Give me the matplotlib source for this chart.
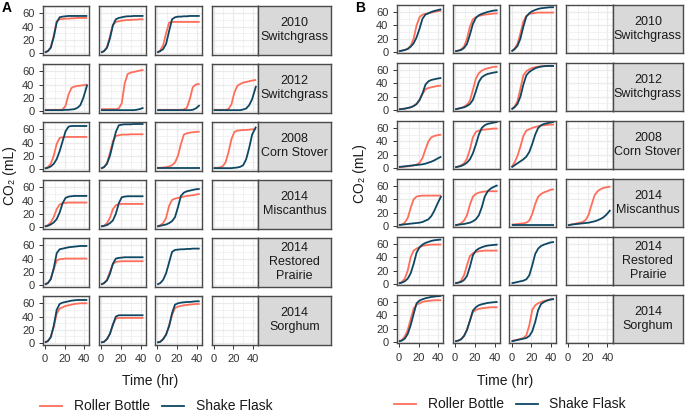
import matplotlib
matplotlib.use('Agg')
import matplotlib.pyplot as plt
from matplotlib.lines import Line2D

plt.rcParams['font.family'] = ['Liberation Sans', 'DejaVu Sans']

W, H = 685, 420

times = [0, 3, 6, 9, 12, 15, 18, 21, 24, 27, 30, 33, 36, 39, 43]
strip_labels = ["2010\nSwitchgrass", "2012\nSwitchgrass", "2008\nCorn Stover",
                "2014\nMiscanthus", "2014\nRestored\nPrairie", "2014\nSorghum"]
series_names = ["Roller Bottle", "Shake Flask"]
x_ticks = [0, 20, 40]
y_ticks = [0, 20, 40, 60]

# ---------------- Panel A ----------------
A_SG10_RB = [[1, 3, 9, 26, 48, 51, 51.5, 52, 52, 52.5, 52.5, 53, 53, 53, 53],
             [1, 3, 9, 25, 42, 47, 48, 49, 49.5, 50, 50, 50.5, 50.5, 51, 51],
             [1, 4, 12, 30, 46, 47, 47, 47, 47, 47, 47, 47, 47, 47, 47],
             None]
A_SG10_SF = [[1, 3, 8, 24, 46, 54, 55, 55.5, 56, 56, 56, 56, 56, 56, 56],
             [1, 3, 8, 22, 42, 51, 53, 54, 55, 55.5, 55.5, 56, 56, 56, 56],
             [1, 3, 6, 14, 33, 51, 54, 55, 55, 55.5, 55.5, 56, 56, 56, 56],
             None]
A_SG12_RB = [[2, 2, 2, 2, 2, 2, 2.5, 8, 25, 35, 37, 38, 38.5, 39, 40],
             [3, 3, 3, 3, 3, 3, 4, 12, 42, 56, 58, 59, 60, 61, 62],
             [2, 2, 2, 2, 2, 2, 2, 2, 2, 2.5, 5, 18, 36, 40, 41],
             [2, 2, 2, 2, 2, 3, 10, 28, 38, 41, 43, 44, 45, 46, 47]]
A_SG12_SF = [[1.5, 1.5, 1.5, 1.5, 1.5, 1.5, 1.5, 2, 2, 2.5, 3, 5, 9, 20, 40],
             [1.5, 1.5, 1.5, 1.5, 1.5, 1.5, 1.5, 1.5, 1.5, 1.5, 1.5, 1.5, 2, 3, 5],
             [1.5, 1.5, 1.5, 1.5, 1.5, 1.5, 1.5, 1.5, 1.5, 1.5, 1.5, 1.5, 2, 4, 9],
             [1.5, 1.5, 1.5, 1.5, 1.5, 1.5, 1.5, 1.5, 1.5, 1.5, 2.5, 4, 9, 18, 38]]
A_CS08_RB = [[1, 3, 8, 20, 38, 47, 48, 48.5, 48.5, 48.5, 48.5, 48.5, 48.5, 48.5, 48.5],
             [1, 3, 9, 24, 42, 50, 51, 52, 52, 52, 52.5, 52.5, 52.5, 52.5, 52.5],
             [2, 2, 2.5, 3, 4, 6, 10, 20, 38, 52, 54, 55, 55.5, 56, 56.5],
             [2, 2, 2.5, 4, 10, 25, 45, 56, 58, 58.5, 59, 59, 59.5, 60, 60]]
A_CS08_SF = [[1, 2, 4, 8, 15, 27, 42, 57, 64, 65, 65, 65, 65, 65, 65],
             [1, 3, 8, 20, 38, 56, 66, 67, 67.5, 67.5, 67.5, 68, 68, 68, 68],
             [1.5, 1.5, 1.5, 1.5, 1.5, 1.5, 1.5, 1.5, 1.5, 1.5, 1.5, 1.5, 1.5, 1.5, 1.5],
             [1.5, 1.5, 1.5, 1.5, 1.5, 1.5, 1.5, 2, 2.5, 3.5, 6, 15, 32, 52, 64]]
A_MI14_RB = [[1, 3, 7, 15, 27, 34, 36, 36.5, 37, 37, 37, 37, 37, 37, 37],
             [1, 2, 6, 14, 27, 33, 34.5, 35, 35, 35, 35, 35, 35, 35, 35],
             [1, 3, 6, 14, 32, 41, 43, 44, 45, 46, 47, 47.5, 48, 49, 50],
             None]
A_MI14_SF = [[1, 2, 4, 7, 12, 22, 36, 44, 46, 46.5, 47, 47, 47, 47, 47],
             [1, 2, 3, 6, 10, 20, 36, 45, 46, 46.5, 46.5, 46.5, 46.5, 46.5, 46.5],
             [1, 2, 3, 4, 6, 9, 15, 30, 47, 52, 54, 55, 56, 57, 57.5],
             None]
A_RP14_RB = [[1, 3, 9, 24, 37, 39, 39.5, 40, 40, 40, 40, 40, 40, 40, 40],
             [1, 3, 8, 20, 32, 35, 35.5, 36, 36, 36, 36, 36, 36, 36, 36],
             None,
             None]
A_RP14_SF = [[1, 3, 9, 25, 48, 54, 55, 56, 57, 57.5, 58, 58.5, 59, 59, 59],
             [1, 3, 7, 17, 32, 40, 41, 41.5, 42, 42, 42, 42, 42, 42, 42],
             [1, 3, 8, 18, 34, 50, 53, 53.5, 54, 54, 54.5, 54.5, 55, 55, 55],
             None]
A_SO14_RB = [[1, 3, 9, 24, 44, 52, 54, 56, 57, 58, 59, 59.5, 60, 60, 60],
             [1, 2, 6, 14, 27, 37, 38, 38, 38, 38, 38, 38, 38, 38, 38],
             [1, 2, 6, 13, 25, 42, 53, 55, 56, 57, 57.5, 58, 58.5, 59, 59],
             None]
A_SO14_SF = [[1, 3, 9, 26, 50, 59, 61, 62, 63, 64, 64.5, 65, 65, 65, 65],
             [1, 2, 6, 14, 28, 40, 42, 42, 42, 42, 42, 42, 42, 42, 42],
             [1, 2, 6, 13, 26, 45, 58, 60, 61, 61.5, 62, 62, 62.5, 63, 63],
             None]

# ---------------- Panel B ----------------
B_SG10_RB = [[1, 2, 3, 5, 9, 20, 40, 52, 56, 57, 58, 59, 60, 61, 62],
             [1, 2, 4, 8, 20, 38, 49, 52, 54, 55, 56, 56.5, 57, 57.5, 58],
             [1, 5, 12, 28, 46, 54, 57, 58, 58.5, 59, 59, 59, 59, 59, 59],
             None]
B_SG10_SF = [[1, 2, 3, 4.5, 8, 13, 22, 35, 50, 56, 58, 60, 61.5, 62.5, 64],
             [1, 2, 3, 6, 12, 26, 42, 51, 55, 57, 58.5, 60, 61, 62, 62.5],
             [1, 4, 9, 20, 38, 53, 58, 61, 63, 64.5, 65.5, 66, 66.5, 67, 67],
             None]
B_SG12_RB = [[1, 1.5, 2, 3, 4, 6, 9, 15, 24, 31, 33, 34, 35, 36, 36.5],
             [1, 2, 3, 5, 8, 14, 30, 47, 55, 59, 61, 62.5, 63.5, 64.5, 65],
             [1, 5, 13, 32, 52, 58, 61, 63, 64, 65, 65.5, 66, 66, 66, 66],
             None]
B_SG12_SF = [[1, 1.5, 2, 3, 4, 6, 9, 15, 25, 38, 43, 45, 46, 47, 48],
             [1, 2, 3, 4, 6, 9, 15, 28, 42, 49, 52, 54, 55, 56, 57],
             [1, 4, 9, 20, 38, 52, 57, 60, 62.5, 64, 65, 65.5, 66, 66, 66],
             None]
B_CS08_RB = [[1, 1.5, 2, 2.5, 3, 4, 5, 8, 15, 28, 40, 46, 48, 49, 50],
             [1, 2, 4, 7, 14, 28, 46, 54, 56, 57, 57.5, 58, 58.5, 59, 59],
             [1, 8, 18, 32, 48, 56, 58, 60, 61.5, 62.5, 63.5, 64, 64.5, 65, 65],
             None]
B_CS08_SF = [[1.5, 2, 2.5, 3, 3.5, 4, 4.5, 5, 5.5, 6.5, 8, 9.5, 11.5, 14, 17],
             [1, 2, 3, 5, 8, 13, 22, 35, 50, 60, 64, 66, 67, 68, 69],
             [1, 4, 7, 10, 13, 17, 24, 36, 50, 60, 64, 66, 67, 68, 69],
             None]
B_MI14_RB = [[1, 2, 5, 12, 27, 40, 44, 45, 45.5, 45.5, 45.5, 45.5, 45.5, 45.5, 45.5],
             [1, 2, 4, 8, 16, 32, 44, 48, 50, 51, 51.5, 52, 52, 52, 52],
             [2, 2.5, 3, 3.5, 4, 5, 8, 18, 33, 44, 48, 50.5, 52, 54, 55],
             [1, 2, 3, 4, 5, 6, 9, 17, 32, 46, 52, 55, 57, 58, 59]]
B_MI14_SF = [[1.5, 2, 2.5, 3, 3.5, 4, 4.5, 5, 6, 8, 10, 15, 23, 33, 45],
             [1, 2, 2.5, 3, 4, 5, 7, 10, 16, 28, 44, 52, 56, 58.5, 61],
             [2, 2, 2, 2, 2, 2, 2, 2, 2, 2, 2, 2, 2, 2, 2],
             [1, 2, 2.5, 3, 3.5, 4, 4.5, 5, 6, 7, 8.5, 10.5, 13, 17, 24]]
B_RP14_RB = [[1, 3, 8, 20, 40, 50, 53, 55, 57, 58, 58.5, 59, 59, 59, 59],
             [1, 2, 5, 13, 28, 42, 46, 48, 49, 49.5, 50, 50, 50, 50, 50],
             None,
             None]
B_RP14_SF = [[1, 2, 4, 8, 16, 30, 47, 55, 59, 61.5, 63, 64.5, 65.5, 66, 66.5],
             [1, 2, 3, 6, 12, 26, 43, 50, 53, 55, 56.5, 57.5, 58, 58.5, 59],
             [1, 2, 3, 4, 5, 7, 13, 28, 45, 53, 57, 59, 60.5, 62, 63],
             None]
B_SO14_RB = [[1, 3, 8, 18, 34, 50, 56, 58, 60, 61, 61.5, 62, 62.5, 62.5, 62.5],
             [1, 2, 4, 9, 18, 32, 45, 48, 49.5, 50.5, 51, 51.5, 52, 52, 52],
             [1.5, 2.5, 3.5, 4.5, 6, 10, 25, 48, 55, 58, 60, 61.5, 62.5, 63.5, 64],
             None]
B_SO14_SF = [[1, 2, 5, 12, 25, 42, 58, 62, 64, 65.5, 66.5, 67.5, 68, 68.5, 69],
             [1, 2, 4, 9, 18, 32, 47, 52, 55, 56.5, 57.5, 58.5, 59, 59.5, 60],
             [1, 2, 3, 4, 5, 6, 9, 16, 30, 48, 57, 60, 62, 63.5, 64.5],
             None]

A_RB = [A_SG10_RB, A_SG12_RB, A_CS08_RB, A_MI14_RB, A_RP14_RB, A_SO14_RB]
A_SF = [A_SG10_SF, A_SG12_SF, A_CS08_SF, A_MI14_SF, A_RP14_SF, A_SO14_SF]
B_RB = [B_SG10_RB, B_SG12_RB, B_CS08_RB, B_MI14_RB, B_RP14_RB, B_SO14_RB]
B_SF = [B_SG10_SF, B_SG12_SF, B_CS08_SF, B_MI14_SF, B_RP14_SF, B_SO14_SF]

COL_RB = '#FF6E5A'
COL_SF = '#0E4763'
GRID = '#EBEBEB'
BORDER = '#4A4A4A'
TXT = '#1A1A1A'
TICKTXT = '#333333'

fig = plt.figure(figsize=(W / 100, H / 100), dpi=100)


def px_axes(x0, y0, w, h):
    return fig.add_axes([x0 / W, 1 - (y0 + h) / H, w / W, h / H])


def draw_block(col_x, col_w, row_top0, row_pitch, row_h, strip_x1, rb, sf, ylim,
               label, label_xy, ylab_x, title_x):
    for r in range(6):
        top = row_top0 + r * row_pitch
        for c in range(4):
            ax = px_axes(col_x[c], top, col_w, row_h)
            ax.set_xlim(-2.15, 45.15)
            ax.set_ylim(*ylim)
            ax.set_xticks(x_ticks)
            ax.set_xticks([10, 30], minor=True)
            ax.set_yticks(y_ticks)
            ax.set_yticks([10, 30, 50, 70], minor=True)
            ax.grid(True, which='major', color=GRID, lw=0.9, zorder=0)
            ax.grid(True, which='minor', color=GRID, lw=0.45, zorder=0)
            ax.set_axisbelow(True)
            for s in ax.spines.values():
                s.set_color(BORDER)
                s.set_linewidth(1.0)
                s.set_zorder(5)
            ax.tick_params(which='minor', length=0)
            ax.tick_params(which='major', length=2.75, width=0.7, color='#333333',
                           labelsize=8, labelcolor=TICKTXT)
            ax.tick_params(axis='x', pad=4.0)
            ax.tick_params(axis='y', pad=3.2)
            if c != 0:
                ax.tick_params(axis='y', left=False, labelleft=False)
            if r != 5:
                ax.tick_params(axis='x', bottom=False, labelbottom=False)
            if rb[r][c] is not None:
                ax.plot(times, rb[r][c], color=COL_RB, lw=1.3, solid_capstyle='butt', zorder=3)
            if sf[r][c] is not None:
                ax.plot(times, sf[r][c], color=COL_SF, lw=1.3, solid_capstyle='butt', zorder=4)
        # strip
        sx0 = col_x[3] + col_w
        sax = px_axes(sx0, top, strip_x1 - sx0, row_h)
        sax.set_facecolor('#D9D9D9')
        sax.set_xticks([])
        sax.set_yticks([])
        for s in sax.spines.values():
            s.set_color(BORDER)
            s.set_linewidth(1.0)
        sax.text(0.5, 0.5, strip_labels[r], ha='center', va='center', fontsize=9,
                 color=TXT, linespacing=1.2, transform=sax.transAxes)
    # panel letter
    fig.text(label_xy[0] / W, 1 - label_xy[1] / H, label, fontsize=10, fontweight='bold',
             ha='left', va='center', color='black')
    # y label
    mid_y = row_top0 + (5 * row_pitch + row_h) / 2
    fig.text(ylab_x / W, 1 - mid_y / H, 'CO\u2082 (mL)', rotation=90, fontsize=10,
             ha='center', va='center', color=TXT)
    # x label
    fig.text(title_x / W, 1 - 381 / H, 'Time (hr)', fontsize=10, ha='center',
             va='center', color=TXT)


draw_block([42.7, 98.9, 155.1, 211.5], 46.7, 5.6, 58.0, 49.0, 330.7,
           A_RB, A_SF, (-2.2, 71.6), 'A', (2, 7.5), 10, 150.5)
draw_block([396.7, 453.0, 509.4, 565.8], 46.7, 4.7, 58.0, 48.5, 683.3,
           B_RB, B_SF, (-1.8, 70.8), 'B', (355, 7.5), 360, 505)


def legend(x_line1, x_text1, x_line2, x_text2, y):
    fy = 1 - y / H
    fig.add_artist(Line2D([x_line1 / W, (x_line1 + 22) / W], [fy, fy], color=COL_RB, lw=1.3))
    fig.text(x_text1 / W, fy, series_names[0], fontsize=10, ha='left', va='center', color=TXT)
    fig.add_artist(Line2D([x_line2 / W, (x_line2 + 22) / W], [fy, fy], color=COL_SF, lw=1.3))
    fig.text(x_text2 / W, fy, series_names[1], fontsize=10, ha='left', va='center', color=TXT)


legend(40, 74, 162, 196, 406)
legend(394, 428, 516, 549, 404)

fig.savefig('out.png', dpi=100)
